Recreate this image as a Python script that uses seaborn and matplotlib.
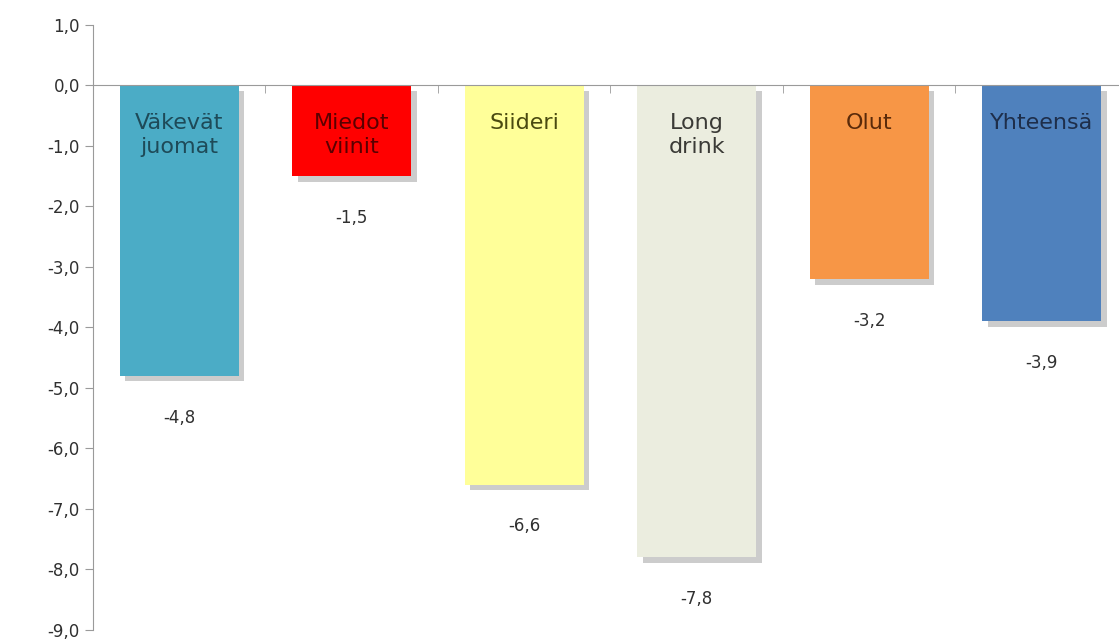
import numpy as np
import pandas as pd
import matplotlib
matplotlib.use("Agg")
import matplotlib.pyplot as plt
import matplotlib.patheffects as pe
import seaborn as sns

# data
categories = ["Väkevät\njuomat", "Miedot\nviinit", "Siideri", "Long\ndrink", "Olut", "Yhteensä"]
values = [-4.8, -1.5, -6.6, -7.8, -3.2, -3.9]
bar_colors = ["#4BACC6", "#FF0000", "#FFFF99", "#EBEDDF", "#F79646", "#4F81BD"]
text_colors = ["#1E4A58", "#5A0000", "#4A4A10", "#3A3A36", "#5A2A0A", "#1E2E4A"]
yticks = np.arange(-9, 2, 1)

df = pd.DataFrame({"cat": categories, "val": values})

sns.set_style("white")
plt.rcParams["font.family"] = ["DejaVu Sans"]

fig = plt.figure(figsize=(11.19, 6.42), dpi=100)
ax = fig.add_axes([0.0831, 0.0187, 0.9169, 0.9424])

sns.barplot(data=df, x="cat", y="val", hue="cat", palette=bar_colors,
            legend=False, width=0.69, saturation=1, linewidth=0, ax=ax)

for bar in ax.patches:
    bar.set_path_effects([pe.SimplePatchShadow(offset=(4, -4), shadow_rgbFace="#808080", alpha=0.4),
                          pe.Normal()])

# category labels inside bars, value labels below
for i, (c, v) in enumerate(zip(categories, values)):
    ax.text(i, -0.45, c, ha="center", va="top", fontsize=16,
            color=text_colors[i], linespacing=1.25)
    ax.annotate(f"{v:.1f}".replace(".", ","), xy=(i, v), xytext=(0, -30),
                textcoords="offset points", ha="center", va="center",
                fontsize=12, color="#303030")

ax.set_ylim(-9, 1)
ax.set_xlim(-0.5, 5.448)
ax.set_yticks(yticks)
ax.set_yticklabels([f"{t:.1f}".replace(".", ",") for t in yticks], fontsize=12, color="#303030")
ax.set_xlabel("")
ax.set_ylabel("")

ax.spines["top"].set_visible(False)
ax.spines["right"].set_visible(False)
ax.spines["left"].set_color("#9A9A9A")
ax.spines["bottom"].set_color("#9A9A9A")
ax.spines["bottom"].set_position(("data", 0))
ax.set_xticks([])
ax.set_xticks(np.arange(0.5, 5.5, 1.0), minor=True)
ax.tick_params(axis="x", which="minor", bottom=True, direction="out", length=6,
               color="#9A9A9A", labelbottom=False)
ax.tick_params(axis="y", direction="out", length=6, color="#9A9A9A", left=True)
ax.set_axisbelow(False)

plt.savefig("out.png", dpi=100, facecolor="white")
